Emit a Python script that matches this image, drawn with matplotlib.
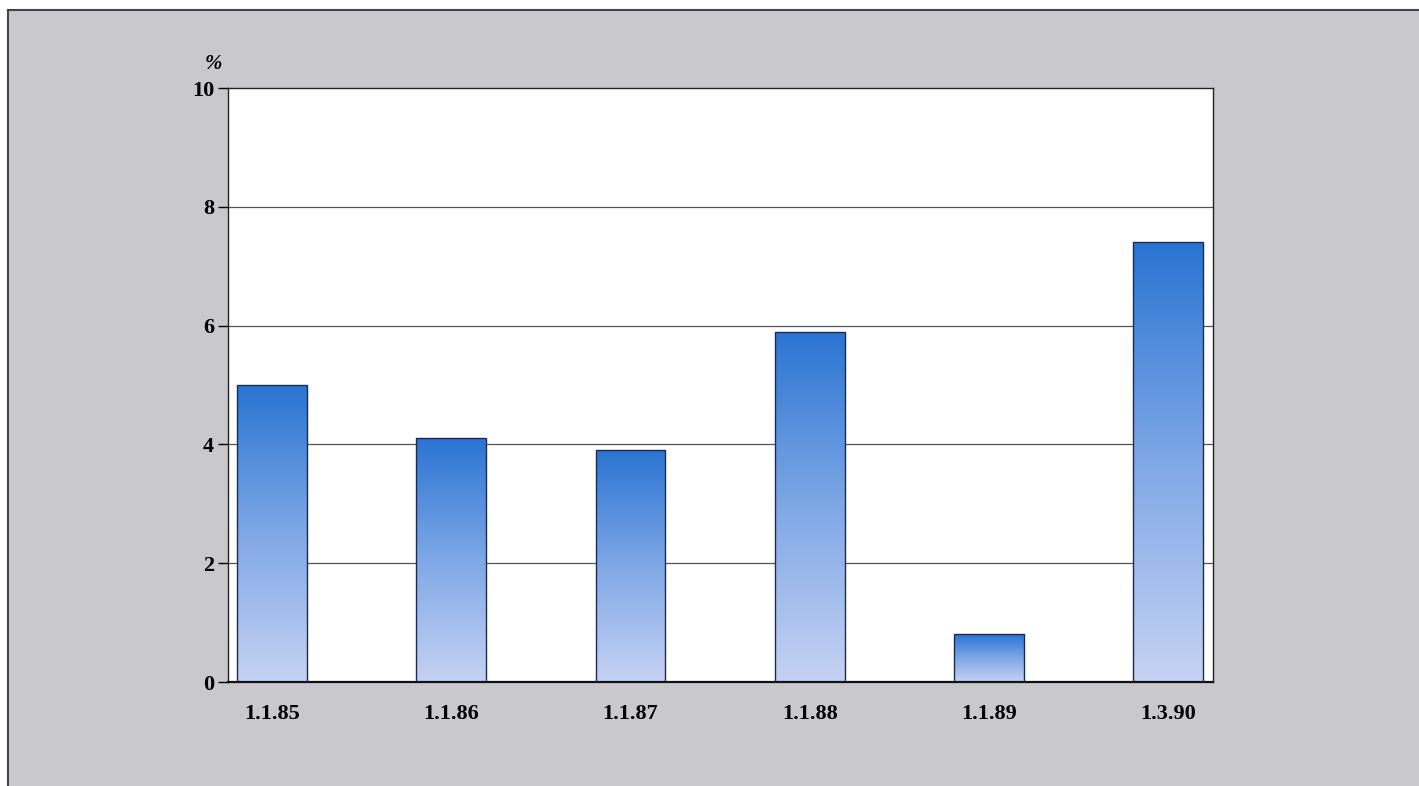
import numpy as np
import matplotlib.pyplot as plt
from matplotlib.patches import Rectangle
from matplotlib.colors import LinearSegmentedColormap

# Data
dates = ['1.1.85', '1.1.86', '1.1.87', '1.1.88', '1.1.89', '1.3.90']
values = [5.0, 4.1, 3.9, 5.9, 0.8, 7.4]
yticks = [0, 2, 4, 6, 8, 10]

plt.rcParams['font.family'] = ['Liberation Serif', 'DejaVu Serif']
plt.rcParams['font.weight'] = 'bold'

fig = plt.figure(figsize=(14.19, 7.86), dpi=100)
fig.patch.set_facecolor('white')
# gray panel with a thin dark border (right/bottom edges run off the page)
fig.patches.append(Rectangle((8 / 1419, -0.01), 1.01, 1 - 10 / 786 + 0.01,
                             transform=fig.transFigure, facecolor='#c9c9cd',
                             edgecolor='#444444', linewidth=1.5, zorder=-10))

ax = fig.add_axes([228 / 1419, 1 - 682 / 786, 985 / 1419, 594 / 786])
ax.set_facecolor('white')

x = np.arange(len(dates))
width = 0.39
bars = ax.bar(x, values, width=width, color='none', edgecolor='#1a2a50',
              linewidth=1.0, zorder=3)

# vertical gradient per bar: dark blue at top, pale at bottom
cmap = LinearSegmentedColormap.from_list('bluegrad', ['#c6d2f3', '#7fa8e6', '#2a74d2'])
grad = np.linspace(0, 1, 256).reshape(-1, 1)
for b in bars:
    x0, w, h = b.get_x(), b.get_width(), b.get_height()
    im = ax.imshow(grad, cmap=cmap, origin='lower', aspect='auto',
                   extent=[x0, x0 + w, 0, h], zorder=2)
    im.set_clip_path(b)

ax.set_xlim(-0.246, len(dates) - 1 + 0.25)
ax.set_ylim(0, 10)
ax.set_yticks(yticks)
ax.set_yticklabels([str(t) for t in yticks], fontsize=16, fontweight='bold')
ax.set_xticks(x)
ax.set_xticklabels(dates, fontsize=16, fontweight='bold')
ax.tick_params(axis='x', length=0, pad=16)
ax.tick_params(axis='y', length=7, width=1, direction='out', pad=3)

for t in yticks[1:-1]:
    ax.axhline(t, color='#555555', linewidth=0.9, zorder=1)

for s in ['left', 'top', 'right']:
    ax.spines[s].set_linewidth(1.0)
    ax.spines[s].set_color('#222222')
ax.spines['bottom'].set_linewidth(1.6)
ax.spines['bottom'].set_color('#111111')

fig.text(213 / 1419, 1 - 64 / 786, '%', fontsize=15, ha='center', va='center',
         fontweight='bold', style='italic')

fig.savefig('out.png', dpi=100)
